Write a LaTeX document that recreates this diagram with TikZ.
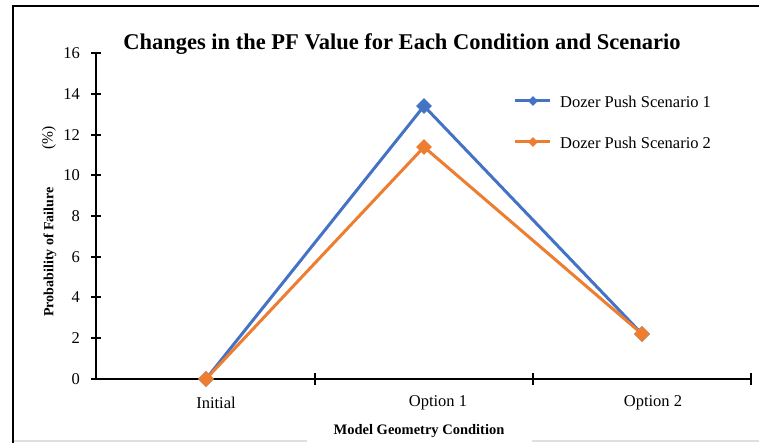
\documentclass[tikz,border=0pt]{standalone}
\usepackage{fontspec}
\setmainfont{Liberation Serif}
\usetikzlibrary{shapes.geometric}
\definecolor{sceneblue}{HTML}{4472C4}
\definecolor{sceneorange}{HTML}{ED7D31}
\newcommand{\datamark}[3]{\node[diamond,fill=#3,inner sep=0pt,minimum size=16pt] (#1m) at (#2) {};}
\newcommand{\ticklabel}[3]{\node[anchor=east,inner sep=0pt,font=\fontsize{16.5}{19}\selectfont] (#1) at (80,#2) {#3};}

\begin{document}
\begin{tikzpicture}[x=1pt,y=-1pt]
        \useasboundingbox (0,0) rectangle (759,443);
        \fill[white] (0,0) rectangle (759,443);

        % frame
        \draw[gray!25,line width=2pt] (13,441) -- (759,441);
        \draw[line width=2.5pt] (13,443) -- (13,6) -- (759,6);

        % axes
        \draw[line width=1.3pt] (96,379) -- (96,53);
        \draw[line width=1.3pt] (96,379) -- (751,379);

        \draw[line width=1.3pt] (91,53) -- (101,53);
        \draw[line width=1.3pt] (91,94) -- (101,94);
        \draw[line width=1.3pt] (91,135) -- (101,135);
        \draw[line width=1.3pt] (91,175) -- (101,175);
        \draw[line width=1.3pt] (91,216) -- (101,216);
        \draw[line width=1.3pt] (91,257) -- (101,257);
        \draw[line width=1.3pt] (91,297) -- (101,297);
        \draw[line width=1.3pt] (91,338) -- (101,338);
        \draw[line width=1.3pt] (91,379) -- (101,379);

        \draw[line width=1.3pt] (315,373) -- (315,385);
        \draw[line width=1.3pt] (533,373) -- (533,385);
        \draw[line width=1.3pt] (751,373) -- (751,385);

        \ticklabel{y16}{53}{16}
        \ticklabel{y14}{94}{14}
        \ticklabel{y12}{135}{12}
        \ticklabel{y10}{175}{10}
        \ticklabel{y8}{216}{8}
        \ticklabel{y6}{257}{6}
        \ticklabel{y4}{297}{4}
        \ticklabel{y2}{338}{2}
        \ticklabel{y0}{379}{0}

        \node[font=\fontsize{16.5}{19}\selectfont] (initial) at (216,403) {Initial};
        \node[font=\fontsize{16.5}{19}\selectfont] (optone) at (438,403) {Option 1};
        \node[font=\fontsize{16.5}{19}\selectfont] (opttwo) at (653,403) {Option 2};

        % titles
        \node[font=\bfseries\fontsize{22.5}{26}\selectfont] (title) at (402,44) {Changes in the PF Value for Each Condition and Scenario};
        \node[fill=white,minimum width=225pt,minimum height=22pt,inner sep=0pt,font=\bfseries\fontsize{14.5}{17}\selectfont] (xtitle) at (419,431) {Model Geometry Condition};
        \node[rotate=90,font=\bfseries\fontsize{14}{17}\selectfont] (ytitle) at (50,252) {Probability of Failure};
        \node[rotate=90,font=\fontsize{15.5}{18}\selectfont] (yunit) at (49,138) {(\%)};

        % data
        \coordinate (s1a) at (206,379);
        \coordinate (s1b) at (424,106);
        \coordinate (s1c) at (642,334);
        \coordinate (s2a) at (206,379);
        \coordinate (s2b) at (424,147);
        \coordinate (s2c) at (642,334);

        \draw[sceneblue,line width=3pt] (s1a) -- (s1b) -- (s1c);
        \datamark{s1a}{s1a}{sceneblue}
        \datamark{s1b}{s1b}{sceneblue}
        \datamark{s1c}{s1c}{sceneblue}
        \draw[sceneorange,line width=3pt] (s2a) -- (s2b) -- (s2c);
        \datamark{s2a}{s2a}{sceneorange}
        \datamark{s2b}{s2b}{sceneorange}
        \datamark{s2c}{s2c}{sceneorange}

        % legend
        \coordinate (leg1l) at (515,101);
        \coordinate (leg1r) at (550,101);
        \coordinate (leg2l) at (515,142);
        \coordinate (leg2r) at (550,142);
        \draw[sceneblue,line width=3pt] (leg1l) -- (leg1r);
        \node[diamond,fill=sceneblue,inner sep=0pt,minimum size=10pt] (leg1m) at (533,101) {};
        \draw[sceneorange,line width=3pt] (leg2l) -- (leg2r);
        \node[diamond,fill=sceneorange,inner sep=0pt,minimum size=10pt] (leg2m) at (533,142) {};
        \node[anchor=west,inner sep=0pt,font=\fontsize{16.5}{19}\selectfont] (leg1) at (560,102) {Dozer Push Scenario 1};
        \node[anchor=west,inner sep=0pt,font=\fontsize{16.5}{19}\selectfont] (leg2) at (560,143) {Dozer Push Scenario 2};
    \end{tikzpicture}
\end{document}
